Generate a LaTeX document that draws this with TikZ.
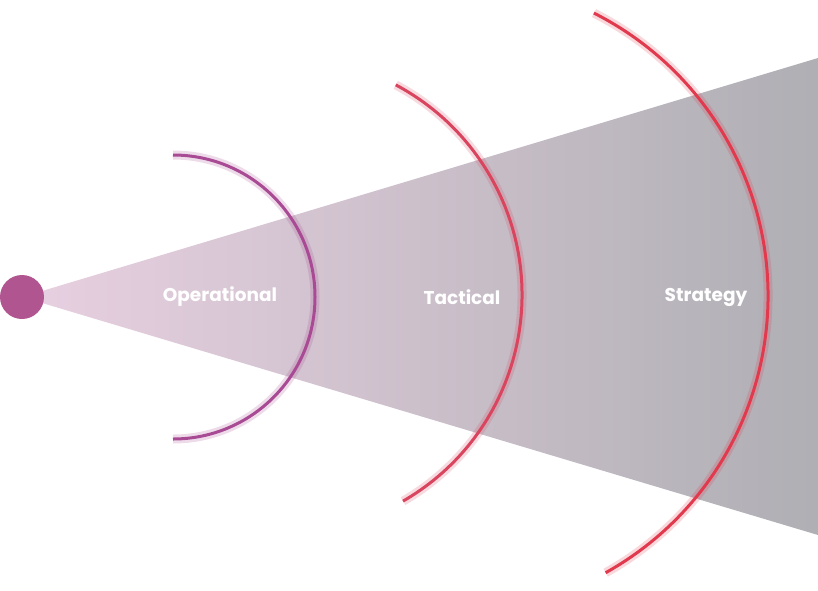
\documentclass[tikz,border=0pt]{standalone}
\usepackage{fontspec}
\setmainfont{Poppins}
\begin{document}
\begin{tikzpicture}[x=1pt,y=-1pt]
\definecolor{conel}{HTML}{E8D0E1}
\definecolor{coner}{HTML}{AFAFB4}
\definecolor{dotc}{HTML}{B0558F}
\definecolor{arcA}{HTML}{A84B94}
\definecolor{arcB}{HTML}{D9455F}
\definecolor{arcC}{HTML}{E13A4E}
\tikzset{lbl/.style={text=white,font=\bfseries\fontsize{18.5}{22}\selectfont,inner sep=0pt},
 ring/.style={line width=3pt}, glow/.style={line width=9pt,opacity=0.2}}
\useasboundingbox (0,0) rectangle (818,590);
\coordinate (apex) at (22,297);
\coordinate (tr) at (818,58);
\coordinate (br) at (818,535);
\shade[left color=conel,right color=coner] (apex) -- (tr) -- (br) -- cycle;
\node[circle,fill=dotc,minimum size=44pt,inner sep=0pt] (dot) at (apex) {};
\foreach \c/\cx/\cy/\r/\a/\b in {arcA/173/297/142/90/-90, arcB/284/295/238/60/-62, arcC/451/296/317/60.8/-63.2}{
  \draw[glow,draw=\c] (\cx,\cy) ++(\a:\r pt and -\r pt) coordinate (s) arc[start angle=-\a,end angle=-\b,radius=\r pt];
  \draw[ring,draw=\c] (s) arc[start angle=-\a,end angle=-\b,radius=\r pt];
}
\node[lbl] (op) at (220,297) {Operational};
\node[lbl] (ta) at (462,297) {Tactical};
\node[lbl] (st) at (706,297) {Strategy};
\end{tikzpicture}
\end{document}
